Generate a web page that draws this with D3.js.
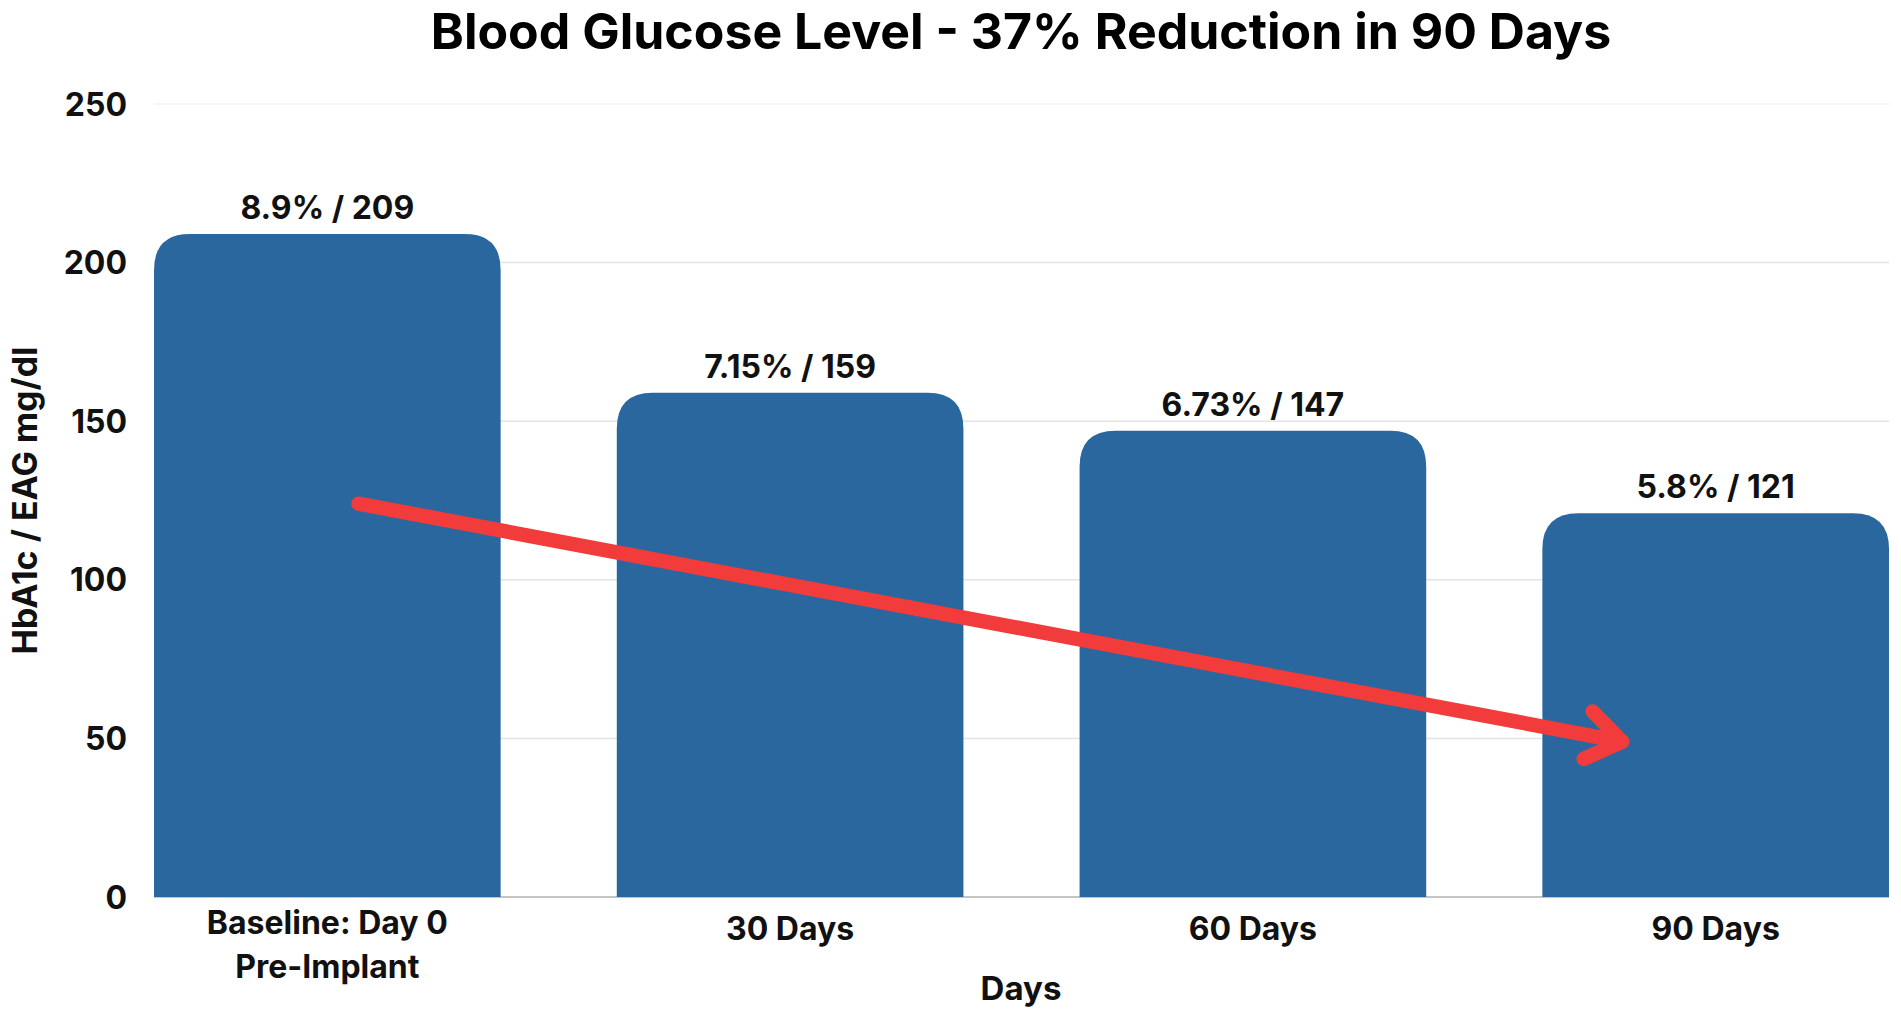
<!DOCTYPE html>
<html><head><meta charset="utf-8">
<script src="https://cdn.jsdelivr.net/npm/d3@7"></script>
<style>html,body{margin:0;padding:0;background:#fff;}svg{display:block;}</style>
</head><body>
<svg id="chart" width="1901" height="1019"></svg>
<script>
const categories = ["Baseline: Day 0\nPre-Implant", "30 Days", "60 Days", "90 Days"];
const values = [209, 159, 147, 121];
const valueLabels = ["8.9% / 209", "7.15% / 159", "6.73% / 147", "5.8% / 121"];
const yTicks = [0, 50, 100, 150, 200, 250];
// trend arrow: [category index, position within band (0-1), value]
const arrowStart = [0, 0.59, 124];
const arrowEnd = [3, 0.23, 49];

(function() {
const svg = d3.select("#chart");
const mL = 154, mR = 1889, mT = 104, mB = 897;
const FONT = "Inter, 'Open Sans', sans-serif";

const x = d3.scaleBand().domain(categories).range([mL, mR]).paddingInner(0.251).paddingOuter(0);
const y = d3.scaleLinear().domain([0, 250]).range([mB, mT]);

// gridlines
svg.append("g").selectAll("line").data(yTicks.filter(d => d > 0)).join("line")
  .attr("x1", mL).attr("x2", mR)
  .attr("y1", d => y(d)).attr("y2", d => y(d))
  .attr("stroke", d => d === 250 ? "#f2f2f2" : "#e3e3e3").attr("stroke-width", 1.5);

// baseline
svg.append("line").attr("x1", mL).attr("x2", mR).attr("y1", y(0)).attr("y2", y(0))
  .attr("stroke", "#c4c4c4").attr("stroke-width", 2);

// y tick labels
svg.append("g").selectAll("text").data(yTicks).join("text")
  .attr("x", 127).attr("y", d => y(d)).attr("dy", "0.36em")
  .attr("text-anchor", "end").attr("font-family", FONT).attr("font-weight", 700)
  .attr("font-size", 32).attr("fill", "#111").text(d => d);

// bars with rounded top corners
const r = 36;
function barPath(x0, w, y0, y1) {
  const rr = Math.min(r, w / 2, y1 - y0);
  return `M${x0},${y1}V${y0 + rr}Q${x0},${y0} ${x0 + rr},${y0}H${x0 + w - rr}Q${x0 + w},${y0} ${x0 + w},${y0 + rr}V${y1}Z`;
}
svg.append("g").selectAll("path").data(categories).join("path")
  .attr("d", (c, i) => barPath(x(c), x.bandwidth(), y(values[i]), y(0)))
  .attr("fill", "#2a679e");

// value labels
svg.append("g").selectAll("text").data(categories).join("text")
  .attr("x", c => x(c) + x.bandwidth() / 2)
  .attr("y", (c, i) => y(values[i]) - 15)
  .attr("text-anchor", "middle").attr("font-family", FONT).attr("font-weight", 700)
  .attr("font-size", 32).attr("fill", "#111").text((c, i) => valueLabels[i]);

// x labels
svg.append("g").selectAll("text").data(categories).join("text")
  .attr("x", c => x(c) + x.bandwidth() / 2)
  .attr("y", c => c.includes("\n") ? 934 : 940)
  .attr("text-anchor", "middle").attr("font-family", FONT).attr("font-weight", 700)
  .attr("font-size", 32).attr("fill", "#111")
  .each(function(c) {
    const lines = c.split("\n");
    d3.select(this).selectAll("tspan").data(lines).join("tspan")
      .attr("x", x(c) + x.bandwidth() / 2)
      .attr("dy", (d, j) => j === 0 ? 0 : 44)
      .text(d => d);
  });

// axis titles
svg.append("text").attr("x", 1021).attr("y", 1000)
  .attr("text-anchor", "middle").attr("font-family", FONT).attr("font-weight", 700)
  .attr("font-size", 33).attr("fill", "#111").text("Days");
svg.append("text").attr("transform", `translate(37,${(mT + mB) / 2}) rotate(-90)`)
  .attr("text-anchor", "middle").attr("font-family", FONT).attr("font-weight", 700)
  .attr("font-size", 34).attr("fill", "#111").text("HbA1c / EAG mg/dl");

// title
svg.append("text").attr("x", 1021).attr("y", 49)
  .attr("text-anchor", "middle").attr("font-family", FONT).attr("font-weight", 700)
  .attr("font-size", 50).attr("fill", "#000").text("Blood Glucose Level - 37% Reduction in 90 Days");

// arrow
const ax0 = x(categories[arrowStart[0]]) + x.bandwidth() * arrowStart[1], ay0 = y(arrowStart[2]);
const ax1 = x(categories[arrowEnd[0]]) + x.bandwidth() * arrowEnd[1], ay1 = y(arrowEnd[2]);
const ang = Math.atan2(ay1 - ay0, ax1 - ax0);
const wl = 42, wa = 35 * Math.PI / 180;
const w1 = [ax1 - wl * Math.cos(ang - wa), ay1 - wl * Math.sin(ang - wa)];
const w2 = [ax1 - wl * Math.cos(ang + wa), ay1 - wl * Math.sin(ang + wa)];
const ag = svg.append("g").attr("stroke", "#f23b3b").attr("stroke-width", 14.5)
  .attr("stroke-linecap", "round").attr("stroke-linejoin", "round").attr("fill", "none");
ag.append("line").attr("x1", ax0).attr("y1", ay0).attr("x2", ax1).attr("y2", ay1);
ag.append("path").attr("d", d3.line()([w1, [ax1, ay1], w2]));
})();
</script>
</body></html>
